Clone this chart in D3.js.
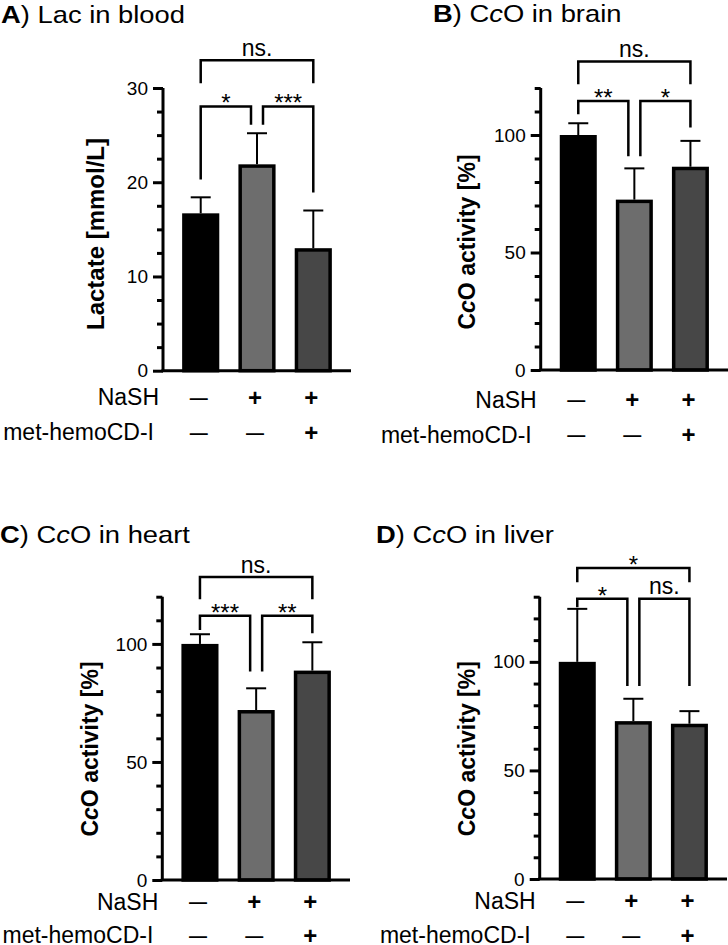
<!DOCTYPE html>
<html><head><meta charset="utf-8">
<script src="https://cdn.jsdelivr.net/npm/d3@7"></script>
<style>
body{margin:0;background:#fff}
svg{display:block}
text{font-family:"Liberation Sans",Arial,Helvetica,sans-serif;fill:#000;white-space:pre}
</style>
</head><body><svg id="c" width="728" height="945"></svg>
<script>
// ---------- data ----------
const groups = ["control", "NaSH", "NaSH + met-hemoCD-I"];
const nashRow = ["—", "+", "+"];
const metRow = ["—", "—", "+"];
const rowNames = ["NaSH", "met-hemoCD-I"];

const lacMean = [16.7, 21.9, 13.0];
const lacSD = [1.7, 3.3, 4.0];
const brainMean = [100, 72.5, 86.5];
const brainSD = [5.0, 13.3, 11.0];
const heartMean = [100, 72.0, 88.7];
const heartSD = [4.1, 9.2, 12.0];
const liverMean = [100, 72.7, 71.5];
const liverSD = [24.4, 10.3, 5.8];

const lacTicks = [0, 10, 20, 30];
const ccoTicks = [0, 50, 100];

// significance brackets: [from, to, label, bracket level, left leg end, right leg end] (data units)
const lacSig = [[0, 2, "ns.", 32.95, 30.5, 30.5], [0, 1, "*", 28.05, 20.3, 26.1], [1, 2, "***", 28.05, 26.1, 18.9]];
const brainSig = [[0, 2, "ns.", 131.3, 121.6, 121.6], [0, 1, "**", 114.5, 108.8, 91.0], [1, 2, "*", 114.5, 91.0, 103.2]];
const heartSig = [[0, 2, "ns.", 128.3, 118.9, 118.9], [0, 1, "***", 111.9, 105.9, 88.3], [1, 2, "**", 111.9, 88.3, 104.5]];
const liverSig = [[0, 2, "*", 143.2, 136.7, 136.7], [0, 1, "*", 129.0, 125.1, 88.9], [1, 2, "ns.", 129.0, 88.9, 88.9]];

const titleLetters = ["A", "B", "C", "D"];
const titleTexts = ["Lac in blood", "C<i>c</i>O in brain", "C<i>c</i>O in heart", "C<i>c</i>O in liver"];
const yLabels = ["Lactate [mmol/L]", "C<i>c</i>O activity [%]", "C<i>c</i>O activity [%]", "C<i>c</i>O activity [%]"];

// ---------- styles ----------
const barFills = ["#000000", "#6d6d6d", "#474747"];

// ---------- layout ----------
const panels = [
  {mean: lacMean, sd: lacSD, sig: lacSig, ticks: lacTicks, max: 30, minor: 2.5,
   x0: 163, x1: 351, y0: 370.7, yTop: 88, tx: 1, ty: 22.5, lx: 96, ly: 234, lfs: 24, r1: 26.6, r2: 61.6},
  {mean: brainMean, sd: brainSD, sig: brainSig, ticks: ccoTicks, max: 120, minor: 10,
   x0: 540.7, x1: 728, y0: 370, yTop: 88, tx: 433, ty: 22, lx: 467, ly: 242, lfs: 23, r1: 30, r2: 65},
  {mean: heartMean, sd: heartSD, sig: heartSig, ticks: ccoTicks, max: 120, minor: 10,
   x0: 162.3, x1: 350, y0: 880, yTop: 596.7, tx: 0, ty: 543, lx: 90, ly: 749, lfs: 23, r1: 21.7, r2: 55.3},
  {mean: liverMean, sd: liverSD, sig: liverSig, ticks: ccoTicks, max: 130, minor: 10,
   x0: 539.7, x1: 727, y0: 879, yTop: 596.7, tx: 376, ty: 542.5, lx: 467, ly: 748.7, lfs: 23, r1: 22, r2: 56.3}
];

const svg = d3.select("#c");

function richText(sel, str) {
  str.split(/(<i>.*?<\/i>)/).filter(s => s.length).forEach(part => {
    const m = part.match(/^<i>(.*)<\/i>$/);
    const t = sel.append("tspan").text(m ? m[1] : part);
    if (m) t.attr("font-style", "italic");
  });
}

panels.forEach((p, pi) => {
  const g = svg.append("g");
  const x = d3.scaleBand().domain(groups).range([p.x0, p.x1]).paddingInner(0.34).paddingOuter(0.34);
  const y = d3.scaleLinear().domain([0, p.max]).range([p.y0, p.yTop]);
  const bw = x.bandwidth();
  const sw = 3.5;
  const cx = i => x(groups[i]) + bw / 2;

  // bars
  g.selectAll("rect.bar").data(p.mean).join("rect")
    .attr("class", "bar")
    .attr("x", (d, i) => x(groups[i]) + sw / 2)
    .attr("width", bw - sw)
    .attr("y", d => y(d) + sw / 2)
    .attr("height", d => y(0) - y(d) - sw / 2)
    .attr("fill", (d, i) => barFills[i])
    .attr("stroke", "#000").attr("stroke-width", sw);

  // error bars (upper only)
  const eb = g.selectAll("g.err").data(p.mean).join("g").attr("class", "err");
  eb.append("line")
    .attr("x1", (d, i) => cx(i)).attr("x2", (d, i) => cx(i))
    .attr("y1", d => y(d)).attr("y2", (d, i) => y(d + p.sd[i]))
    .attr("stroke", "#000").attr("stroke-width", 2);
  eb.append("line")
    .attr("x1", (d, i) => cx(i) - 10).attr("x2", (d, i) => cx(i) + 10)
    .attr("y1", (d, i) => y(d + p.sd[i])).attr("y2", (d, i) => y(d + p.sd[i]))
    .attr("stroke", "#000").attr("stroke-width", 2);

  // y axis major
  const ax = d3.axisLeft(y).tickValues(p.ticks).tickSize(10).tickPadding(5).tickSizeOuter(0).tickFormat(d3.format("d"));
  const ag = g.append("g").attr("transform", `translate(${p.x0},0)`).call(ax);
  ag.select(".domain").attr("stroke-width", 3).attr("d", `M0,${p.yTop}V${p.y0}`);
  ag.selectAll(".tick line").attr("stroke-width", 3);
  ag.selectAll(".tick text").attr("font-size", 19).attr("font-family", null).attr("fill", "#000");
  ag.attr("font-family", null);
  // minor ticks
  const minors = d3.range(0, p.max + 1e-6, p.minor).filter(v => !p.ticks.some(t => Math.abs(t - v) < 1e-6));
  const mg = g.append("g").attr("transform", `translate(${p.x0},0)`)
    .call(d3.axisLeft(y).tickValues(minors).tickSize(6).tickSizeOuter(0).tickFormat(""));
  mg.select(".domain").remove();
  mg.selectAll(".tick line").attr("stroke-width", 3);

  // x axis line
  g.append("line").attr("x1", p.x0 - 1.5).attr("x2", p.x1).attr("y1", y(0)).attr("y2", y(0))
    .attr("stroke", "#000").attr("stroke-width", 3);

  // significance brackets
  p.sig.forEach(s => {
    const [a, b, lab, lev, legL, legR] = s;
    const full = (a === 0 && b === 2);
    const xl = cx(a) + (!full && a === 1 ? 6 : 0);
    const xr = cx(b) + (!full && b === 1 ? -6 : 0);
    g.append("path")
      .attr("d", `M${xl},${y(legL)}V${y(lev)}H${xr}V${y(legR)}`)
      .attr("fill", "none").attr("stroke", "#000").attr("stroke-width", 2.5);
    const isNs = lab.startsWith("ns");
    g.append("text")
      .attr("x", (xl + xr) / 2)
      .attr("y", isNs ? y(lev) - 4.5 : y(lev) + 5)
      .attr("text-anchor", "middle")
      .attr("font-size", isNs ? 23 : 24)
      .text(lab);
  });

  // treatment rows
  [[nashRow, p.r1, 4], [metRow, p.r2, 9]].forEach(([row, off, pad], ri) => {
    g.append("text").attr("x", p.x0 - pad).attr("y", p.y0 + off).attr("dy", "0.35em")
      .attr("text-anchor", "end").attr("font-size", 23).text(rowNames[ri]);
    g.selectAll(null).data(row).join("text")
      .attr("x", (d, i) => cx(i) - 2).attr("y", p.y0 + off).attr("dy", "0.35em")
      .attr("text-anchor", "middle").attr("font-weight", "bold")
      .attr("font-size", d => d === "+" ? 24 : 18)
      .text(d => d);
  });

  // title
  const t = g.append("text").attr("transform", `translate(${p.tx},${p.ty}) scale(1.14,1)`).attr("font-size", 24);
  t.append("tspan").attr("font-weight", "bold").text(titleLetters[pi]);
  t.append("tspan").text(") ");
  richText(t, titleTexts[pi]);

  // y label
  const yl = g.append("text").attr("transform", `translate(${p.lx},${p.ly}) rotate(-90)`)
    .attr("text-anchor", "middle").attr("dy", "0.35em").attr("font-weight", "bold").attr("font-size", p.lfs);
  richText(yl, yLabels[pi]);
});
</script>
</body></html>
